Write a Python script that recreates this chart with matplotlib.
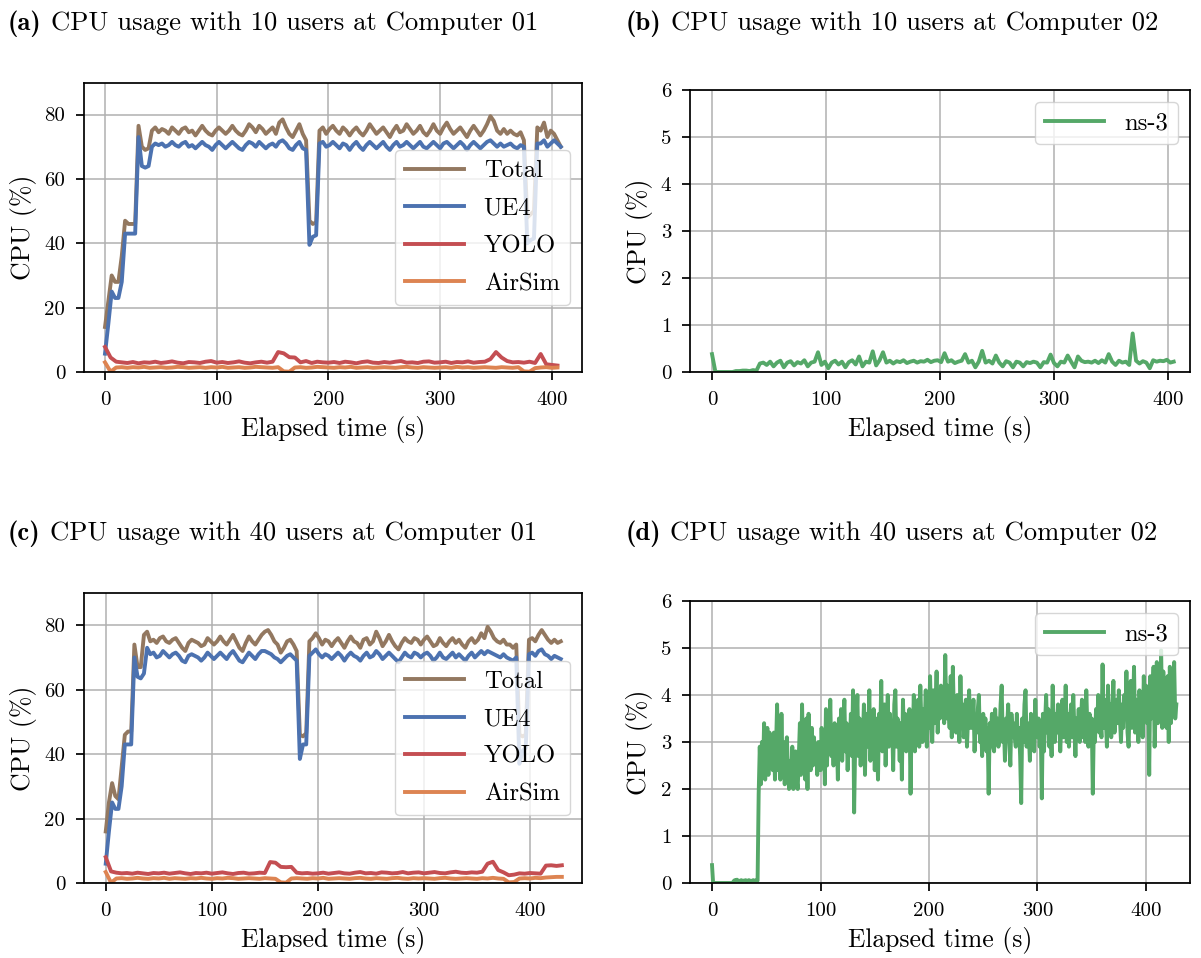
import numpy as np
import matplotlib
matplotlib.use("Agg")
import matplotlib.pyplot as plt

# ---------------- data ----------------
# (a) 10 users, Computer 01 -- Total / UE4 sampled every 3 s, YOLO / AirSim every 5 s
total_a = [14, 22, 30, 28, 28, 36, 47, 46, 46, 46,
           76.5, 70, 69, 69.5, 75, 76, 74.5, 75.5, 75, 74,
           76, 75, 74, 75.5, 76, 74.5, 75, 73.5, 75, 76.5,
           75, 74, 73.5, 75, 76, 75, 74, 75, 76.5, 75,
           74, 73.5, 75, 77, 76, 74.5, 76.5, 75.5, 74, 75,
           76, 74, 77.5, 78.5, 76, 74, 73, 75, 77, 74,
           72, 47, 46, 46.5, 75, 76, 74, 75.5, 76.5, 75,
           74, 76, 75, 73.5, 75, 76, 74.5, 73.5, 75, 77,
           75.5, 74, 75, 76, 74.5, 73, 75, 76.5, 74.5, 75,
           77, 75.5, 74, 75, 76.5, 74.5, 73.5, 75, 77, 75,
           74, 76, 77.5, 75.5, 74, 75, 76, 74.5, 73, 75,
           76.5, 75, 73.5, 75, 77, 79.5, 78, 75, 74, 75.5,
           74, 75, 74, 73.5, 74.5, 72, 48, 49, 50, 76,
           75, 77.5, 73, 75, 74, 72, 70]
ue4_a = [5.7, 15, 25, 23, 23, 28, 43, 43, 43, 43,
         73, 64, 63.5, 64, 70, 71, 70.5, 71, 70, 70.5,
         71.5, 70.5, 70, 71, 71.5, 70, 70.5, 69.5, 70.5, 71.5,
         70.5, 70, 69, 70.5, 71.5, 70.5, 69.5, 70.5, 71.5, 70.5,
         69.5, 69, 70.5, 71.5, 71, 70, 71.5, 70.5, 69.5, 70.5,
         71, 70, 71.5, 72, 71, 69.5, 69, 70.5, 71.5, 69.5,
         69, 39.5, 42, 42.5, 71, 71.5, 70, 70.5, 71.5, 70.5,
         69.5, 71, 70.5, 69, 70.5, 71.5, 70, 69, 70.5, 71.5,
         70.5, 69.5, 70.5, 71.5, 70, 69, 70.5, 71.5, 70, 70.5,
         71.5, 70.5, 69.5, 70.5, 71.5, 70, 69.5, 70.5, 71.5, 70.5,
         69.5, 71, 71.5, 70.5, 69.5, 70.5, 71.5, 70.5, 69, 70.5,
         71.5, 70.5, 69.5, 70.5, 71.5, 72, 71, 70, 71, 70,
         70.5, 71, 70, 69.5, 70.5, 70, 40, 41, 41.5, 71,
         71, 72, 70, 71, 72, 71, 70]
yolo_a = [7.8, 4.5, 3.2, 3.0, 2.8, 3.1, 2.7, 3.0, 2.9, 3.2,
          2.8, 3.0, 3.3, 2.9, 2.7, 3.1, 3.0, 2.8, 3.2, 3.4,
          2.9, 3.1, 2.8, 3.0, 3.3, 2.9, 2.7, 3.0, 3.2, 2.9,
          3.2, 6.2, 5.8, 4.6, 4.5, 3.0, 3.4, 2.8, 3.2, 3.0,
          2.9, 3.1, 2.8, 3.2, 3.0, 2.7, 3.1, 3.3, 2.9, 2.8,
          3.1, 2.9, 3.2, 3.4, 2.9, 3.0, 2.8, 3.2, 3.3, 2.9,
          3.0, 3.2, 2.8, 3.1, 3.0, 3.3, 2.9, 3.1, 3.2, 4.0,
          6.2, 4.5, 3.4, 3.0, 3.1, 2.9, 3.2, 2.8, 5.6, 2.4,
          2.2, 2.0]
airsim_a = [3.0, 0.1, 1.4, 1.5, 1.3, 1.5, 1.4, 1.6, 1.3, 1.4,
            1.5, 1.3, 1.4, 1.6, 1.5, 1.3, 1.4, 1.5, 1.3, 1.5,
            1.4, 1.6, 1.3, 1.4, 1.5, 1.3, 1.4, 1.6, 1.5, 1.4,
            1.3, 1.5, 0.2, 0.1, 1.4, 1.5, 1.3, 1.4, 1.6, 1.5,
            1.4, 1.3, 1.5, 1.4, 1.6, 1.3, 1.4, 1.5, 1.3, 1.4,
            1.5, 1.4, 1.3, 1.5, 1.6, 1.4, 1.3, 1.5, 1.4, 1.3,
            1.4, 1.5, 1.3, 1.6, 1.4, 1.5, 1.3, 1.4, 1.5, 1.4,
            1.3, 1.5, 1.4, 1.3, 1.5, 0.2, 0.1, 1.2, 1.4, 1.5,
            1.3, 1.4]

# (b) 10 users, Computer 02 -- ns-3 sampled every 3 s
ns3_b = [0.38, 0, 0, 0, 0, 0, 0, 0.02, 0.02, 0.03,
         0.03, 0.02, 0.04, 0.03, 0.18, 0.2, 0.15, 0.22, 0.12, 0.2,
         0.24, 0.1, 0.2, 0.23, 0.14, 0.21, 0.18, 0.25, 0.12, 0.2,
         0.22, 0.42, 0.15, 0.22, 0.08, 0.2, 0.24, 0.16, 0.22, 0.1,
         0.21, 0.25, 0.16, 0.33, 0.12, 0.22, 0.2, 0.44, 0.14, 0.25,
         0.42, 0.2, 0.24, 0.18, 0.23, 0.21, 0.25, 0.19, 0.22, 0.24,
         0.2, 0.23, 0.22, 0.26, 0.21, 0.24, 0.25, 0.21, 0.4, 0.22,
         0.25, 0.19, 0.22, 0.24, 0.38, 0.2, 0.24, 0.1, 0.22, 0.45,
         0.2, 0.24, 0.18, 0.35, 0.2, 0.12, 0.23, 0.2, 0.1, 0.22,
         0.2, 0.12, 0.21, 0.19, 0.22, 0.2, 0.1, 0.21, 0.2, 0.37,
         0.19, 0.12, 0.22, 0.2, 0.35, 0.22, 0.1, 0.33, 0.24, 0.21,
         0.22, 0.2, 0.24, 0.19, 0.25, 0.2, 0.38, 0.22, 0.15, 0.24,
         0.2, 0.22, 0.15, 0.82, 0.24, 0.18, 0.23, 0.2, 0.08, 0.25,
         0.22, 0.24, 0.23, 0.26, 0.2, 0.22]

# (c) 40 users, Computer 01
total_c = [16, 25, 31, 27, 26, 36, 46, 47, 47, 74,
           67, 67, 77, 78, 75, 75.5, 74.5, 76, 76.5, 75,
           74.5, 75.5, 76, 74.5, 73, 72, 74.5, 75.5, 75, 74.5,
           73.5, 74, 76, 75, 74, 75, 76.5, 75, 74, 75.5,
           77, 75, 73, 72, 74.5, 76.5, 75, 74, 75.5, 77,
           78, 78.5, 77, 75, 74, 71.5, 73, 75, 75.5, 74,
           72, 46, 45.5, 46.5, 75, 76, 77.5, 76, 74, 75.5,
           75, 73.5, 75, 76, 74.5, 73, 75, 76.5, 75, 74.5,
           73, 75.5, 76, 74, 75, 78, 76, 73.5, 75, 77,
           75, 73.5, 72.5, 74.5, 76, 75, 74.5, 76, 75.5, 74,
           75.5, 76.5, 75, 73.5, 74, 76, 74.5, 73.5, 75, 76,
           74.5, 75.5, 74, 73, 75, 76, 74.5, 75.5, 77.5, 76,
           79.5, 78, 76, 75, 74.5, 75.5, 74, 74, 73, 74,
           46, 45.5, 46, 75.5, 76, 75, 77, 78.5, 77, 75.5, 74.5, 75.5, 74.5, 75]
ue4_c = [6, 16, 25, 23, 23, 30, 43, 43, 43, 70,
         64, 63.5, 65, 73, 71, 71.5, 70, 70.5, 72, 71,
         70, 71, 71.5, 70.5, 69, 68.5, 70.5, 71, 70.5, 70,
         69, 70, 71.5, 70.5, 69.5, 70.5, 71.5, 70.5, 69.5, 71,
         72, 70.5, 69, 68.5, 70, 71.5, 70.5, 69.5, 71, 72,
         72, 71.5, 71, 70, 69.5, 68.5, 69.5, 70.5, 71, 70,
         69, 38.5, 43, 43, 70.5, 71.5, 72.5, 71, 70, 71,
         70.5, 69.5, 70.5, 71.5, 70.5, 69, 70.5, 71.5, 70.5, 70,
         69, 70.5, 71.5, 70, 70.5, 72, 71, 69.5, 70.5, 71.5,
         70.5, 69.5, 68.5, 70, 71.5, 70.5, 70, 71.5, 71, 70,
         71, 71.5, 70.5, 69, 70, 71.5, 70, 69.5, 70.5, 71.5,
         70, 71, 70, 69, 70.5, 71.5, 70, 71, 72, 71,
         72, 71.5, 71, 70.5, 70, 71, 70, 69.5, 69, 70,
         37, 41, 42, 71, 71.5, 70.5, 72, 72.5, 71, 70.5, 69.5, 70.5, 70, 69.5]
yolo_c = [8.0, 3.6, 3.2, 3.0, 3.1, 2.9, 3.2, 3.0, 2.8, 3.1,
          3.0, 3.2, 2.9, 3.1, 3.3, 3.0, 2.8, 3.1, 3.0, 3.2,
          2.9, 3.1, 3.3, 3.0, 2.8, 3.1, 3.2, 2.9, 3.0, 3.2,
          3.1, 6.5, 6.3, 5.0, 4.9, 5.0, 3.2, 3.0, 3.1, 2.9,
          3.0, 3.2, 2.9, 3.1, 3.3, 3.0, 2.9, 3.2, 3.4, 3.0,
          3.1, 2.9, 3.3, 3.2, 3.0, 3.1, 3.4, 3.0, 3.2, 3.3,
          3.0, 3.2, 3.4, 3.1, 3.0, 3.3, 3.5, 3.2, 3.1, 3.3,
          3.2, 3.5, 6.0, 6.6, 4.0, 3.3, 2.4, 2.6, 3.0, 2.9,
          3.1, 3.0, 2.9, 5.4, 5.5, 5.3, 5.5]
airsim_c = [3.4, 0.1, 1.4, 1.5, 1.3, 1.4, 1.6, 1.4, 1.3, 1.5,
            1.4, 1.6, 1.3, 1.5, 1.4, 1.3, 1.5, 1.4, 1.6, 1.4,
            1.3, 1.5, 1.4, 1.6, 1.5, 1.3, 1.4, 1.5, 1.4, 1.3,
            1.5, 1.4, 1.3, 0.2, 0.1, 1.4, 1.5, 1.4, 1.3, 1.5,
            1.4, 1.6, 1.3, 1.4, 1.5, 1.4, 1.3, 1.5, 1.6, 1.4,
            1.3, 1.5, 1.4, 1.3, 1.5, 1.6, 1.4, 1.3, 1.5, 1.4,
            1.5, 1.4, 1.3, 1.5, 1.6, 1.4, 1.3, 1.4, 1.5, 1.4,
            1.3, 1.5, 1.4, 1.6, 1.4, 1.3, 0.2, 0.3, 1.4, 1.5,
            1.4, 1.6, 1.5, 1.7, 1.8, 1.9, 1.9]

# (d) 40 users, Computer 02 -- ns-3 sampled every 1 s
ns3_d = [0.38, 0.0, 0, 0, 0, 0, 0, 0, 0, 0, 0, 0, 0, 0, 0, 0, 0, 0, 0, 0,
         0.04, 0.06, 0.05, 0.07, 0.05, 0.04, 0.05, 0.06, 0.04, 0.05, 0.05, 0.06, 0.04, 0.05, 0.06, 0.05, 0.04, 0.05, 0.06, 0.05,
         0.05, 0.06, 0.05, 1.9, 2.9, 2.1, 3.0, 2.4, 3.4, 2.2, 2.9, 3.3, 2.3, 3.2, 2.6, 3.0, 2.4, 3.2, 2.2, 2.9,
         3.8, 2.4, 3.3, 2.2, 3.6, 2.5, 3.0, 2.1, 2.7, 3.1, 2.4, 2.0, 2.6, 2.3, 2.9, 2.0, 2.5, 2.8, 2.2, 2.0,
         2.7, 3.4, 2.3, 3.8, 2.6, 3.2, 2.2, 3.5, 2.0, 3.6, 2.7, 2.4, 3.3, 2.5, 3.1, 2.6, 2.9, 2.3, 3.0, 2.7,
         2.4, 3.3, 2.6, 3.0, 2.1, 3.7, 2.5, 3.6, 2.8, 3.9, 2.7, 3.2, 2.5, 3.4, 2.9, 3.1, 2.2, 3.5, 2.8, 3.7,
         2.6, 3.3, 3.9, 2.8, 3.4, 2.4, 3.1, 2.9, 3.6, 2.7, 4.1, 1.5, 3.0, 3.3, 4.0, 2.7, 3.5, 2.5, 3.3, 3.0,
         3.8, 2.3, 3.6, 2.9, 3.2, 4.1, 2.6, 3.4, 2.9, 3.7, 2.4, 3.5, 3.0, 2.2, 3.6, 3.1, 4.3, 2.8, 3.4, 3.8,
         2.5, 3.3, 4.0, 2.9, 3.6, 3.0, 3.4, 2.4, 3.8, 4.1, 2.9, 3.5, 3.2, 2.6, 3.4, 2.2, 3.9, 3.1, 3.6, 2.8,
         3.4, 2.9, 3.7, 1.9, 3.5, 3.1, 4.0, 2.8, 3.6, 3.3, 3.9, 2.9, 4.2, 3.4, 3.0, 3.7, 3.3, 4.1, 2.9, 3.6,
         3.3, 4.4, 3.5, 3.0, 4.1, 3.4, 3.7, 4.5, 3.2, 3.9, 3.5, 4.2, 3.6, 4.0, 3.4, 4.85, 3.5, 4.2, 3.8, 3.3,
         4.4, 3.1, 4.6, 3.5, 3.9, 3.2, 4.0, 3.6, 3.0, 4.4, 3.4, 3.8, 3.1, 3.6, 3.9, 2.9, 3.5, 4.1, 3.3, 3.7,
         3.3, 3.9, 2.8, 3.5, 3.2, 3.7, 4.0, 3.0, 3.4, 2.7, 3.6, 3.1, 3.5, 2.8, 3.3, 1.9, 3.4, 3.0, 3.6, 2.9,
         2.8, 3.7, 3.2, 3.5, 2.9, 3.1, 3.8, 4.2, 3.0, 3.4, 2.6, 3.5, 3.3, 3.8, 3.0, 2.5, 3.6, 3.2, 3.4, 3.1,
         2.9, 3.6, 3.0, 3.3, 2.7, 1.7, 3.5, 3.0, 3.8, 4.1, 2.9, 3.4, 3.2, 2.6, 3.6, 3.0, 3.3, 2.8, 3.9, 3.2,
         3.1, 3.5, 2.9, 3.3, 1.8, 3.6, 2.8, 3.4, 4.0, 3.2, 3.7, 2.9, 3.5, 2.7, 4.2, 3.3, 3.0, 3.6, 3.2, 3.8,
         3.5, 2.8, 3.4, 3.9, 3.1, 3.3, 4.2, 3.0, 3.6, 2.9, 3.4, 3.8, 3.1, 4.0, 3.3, 2.7, 3.5, 3.2, 3.7, 3.0,
         3.4, 3.9, 3.1, 3.6, 3.0, 4.1, 3.3, 2.9, 3.6, 3.2, 3.5, 1.9, 3.4, 3.0, 3.7, 3.3, 4.0, 3.2, 3.5, 3.1,
         4.65, 3.3, 3.9, 3.5, 2.9, 4.2, 3.4, 3.8, 3.1, 3.7, 4.3, 3.2, 3.6, 3.9, 3.4, 4.1, 3.5, 3.0, 3.8, 3.3,
         4.0, 3.5, 4.5, 3.2, 2.9, 3.8, 4.3, 3.3, 3.6, 4.6, 3.2, 3.9, 3.5, 3.0, 4.1, 3.4, 3.8, 3.1, 4.4, 3.6,
         4.2, 3.4, 4.0, 2.3, 4.4, 3.5, 3.9, 4.6, 2.9, 3.8, 4.7, 3.4, 4.1, 3.7, 4.95, 3.3, 4.5, 3.6, 4.0, 3.3,
         4.4, 3.0, 4.6, 3.4, 4.2, 3.6, 4.7, 3.5, 3.8]

title_tags = ["(a)", "(b)", "(c)", "(d)"]
titles = ["CPU usage with 10 users at Computer 01",
          "CPU usage with 10 users at Computer 02",
          "CPU usage with 40 users at Computer 01",
          "CPU usage with 40 users at Computer 02"]
labels_c1 = ["Total", "UE4", "YOLO", "AirSim"]
labels_c2 = ["ns-3"]
xlabel = "Elapsed time (s)"
ylabel = "CPU (%)"

# ---------------- style ----------------
plt.rcParams.update({
    "font.family": "serif",
    "font.serif": ["cmr10"],
    "mathtext.fontset": "cm",
    "axes.unicode_minus": False,
    "axes.linewidth": 1.25,
    "xtick.major.size": 6, "ytick.major.size": 6,
    "xtick.major.width": 1.25, "ytick.major.width": 1.25,
    "xtick.major.pad": 7.5, "ytick.major.pad": 7.5,
    "xtick.labelsize": 15, "ytick.labelsize": 15,
    "axes.labelsize": 18.5,
    "axes.labelpad": 5.5,
    "legend.fontsize": 17.8,
})

C_TOTAL = "#937860"
C_UE4 = "#4C72B0"
C_YOLO = "#C44E52"
C_AIR = "#DD8452"
C_NS3 = "#55A868"
LW = 2.8

W, H = 1201, 958
fig = plt.figure(figsize=(W / 100, H / 100), dpi=100)


def px_axes(l, r, t, b):
    return fig.add_axes([l / W, 1 - b / H, (r - l) / W, (b - t) / H])


ax_a = px_axes(84, 582, 83, 372)
ax_b = px_axes(690, 1190, 90, 372)
ax_c = px_axes(84, 582, 593, 883)
ax_d = px_axes(690, 1190, 601, 883)


def series_t(vals, step):
    return np.arange(len(vals)) * step


def comp01(ax, total, ue4, yolo, air, xlim, ylim):
    ax.plot(series_t(total, 3), total, color=C_TOTAL, lw=LW, label=labels_c1[0])
    ax.plot(series_t(ue4, 3), ue4, color=C_UE4, lw=LW, label=labels_c1[1])
    ax.plot(series_t(yolo, 5), yolo, color=C_YOLO, lw=LW, label=labels_c1[2])
    ax.plot(series_t(air, 5), air, color=C_AIR, lw=LW, label=labels_c1[3])
    ax.set_xlim(*xlim)
    ax.set_ylim(*ylim)
    ax.set_yticks([0, 20, 40, 60, 80])
    ax.legend(loc="center right", framealpha=0.8, edgecolor="#cccccc",
              handlelength=2.4, labelspacing=0.62)


def comp02(ax, ns3, step, xlim):
    ax.plot(series_t(ns3, step), ns3, color=C_NS3, lw=LW, label=labels_c2[0])
    ax.set_xlim(*xlim)
    ax.set_ylim(0, 6)
    ax.set_yticks([0, 1, 2, 3, 4, 5, 6])
    ax.legend(loc="upper right", framealpha=0.8, edgecolor="#cccccc",
              handlelength=2.4)


comp01(ax_a, total_a, ue4_a, yolo_a, airsim_a, (-18.8, 427.0), (0, 89.8))
comp02(ax_b, ns3_b, 3, (-19.3, 419.3))
comp01(ax_c, total_c, ue4_c, yolo_c, airsim_c, (-20.5, 449.0), (0, 90))
comp02(ax_d, ns3_d, 1, (-20.3, 440.6))

for ax in (ax_a, ax_b, ax_c, ax_d):
    ax.grid(True, color="#b0b0b0", lw=1.1)
    ax.set_axisbelow(True)
    ax.set_xticks([0, 100, 200, 300, 400])
    ax.set_xlabel(xlabel)
    ax.set_ylabel(ylabel)

renderer = fig.canvas.get_renderer()
TFS = 19.2
space_px = 0.333 * TFS * 100 / 72
title_pos = [(8, 30), (626, 30), (8, 540), (626, 540)]
for (x, y), tag, t in zip(title_pos, title_tags, titles):
    tt = fig.text(x / W, 1 - y / H, tag, fontsize=TFS, family="cmb10",
                  ha="left", va="baseline")
    bb = tt.get_window_extent(renderer)
    fig.text((bb.x1 + space_px) / W, 1 - y / H, t, fontsize=TFS,
             ha="left", va="baseline")

fig.savefig("out.png", dpi=100)
